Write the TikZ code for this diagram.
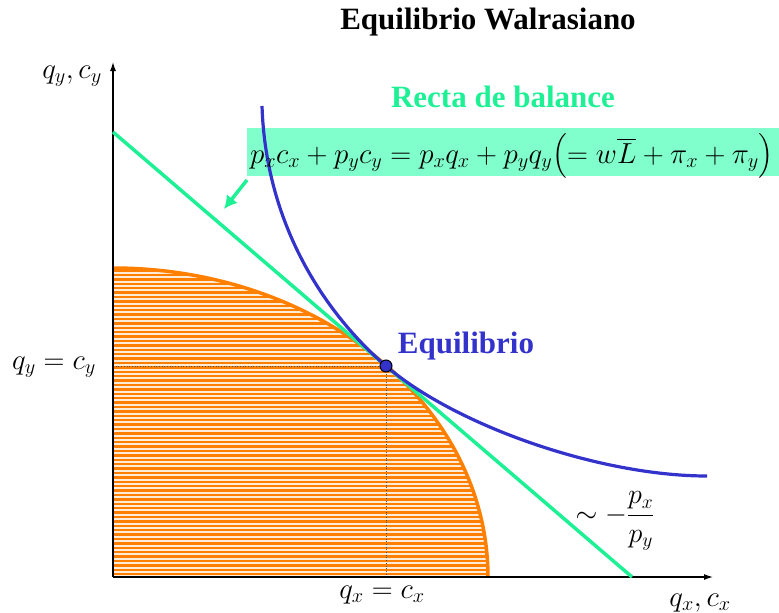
\RequirePackage{fix-cm}
\documentclass[tikz,border=0pt]{standalone}
\usepackage{amsmath}
\usepackage[no-math]{fontspec}
\setmainfont{Liberation Serif}
\usetikzlibrary{arrows.meta}
\definecolor{lgreen}{RGB}{30,240,150}
\definecolor{boxgreen}{RGB}{128,255,204}
\definecolor{ublue}{RGB}{51,51,204}
\definecolor{uorange}{RGB}{255,128,0}
\definecolor{paleorange}{RGB}{255,236,215}
\tikzset{
  axis/.style={line width=1.2pt,-{Latex[length=9pt,width=6pt]}},
  guide/.style={dotted,line width=0.7pt,black!70},
  lbl/.style={inner sep=0pt,font=\fontsize{29}{32}\selectfont},
  headline/.style={inner sep=0pt,font=\fontsize{31}{35}\selectfont\bfseries},
}
\begin{document}
\begin{tikzpicture}[x=1pt,y=-1pt]
\useasboundingbox (0,0) rectangle (779,613);
% production possibility region
\begin{scope}
  \clip (113,577) -- plot[domain=90:0,samples=80] ({113+375*cos(\x)},{577-309*sin(\x)}) -- cycle;
  \fill[paleorange] (110,260) rectangle (500,580);
  \foreach \yy in {270.5,274.9,...,580} \draw[uorange,line width=2.4pt] (110,\yy) -- (500,\yy);
\end{scope}
\draw[uorange,line width=3.5pt] plot[domain=90:0,samples=80] ({113+375*cos(\x)},{577-309*sin(\x)});
% formula box
\fill[boxgreen] (247,128) rectangle (779,176);
% coordinates
\coordinate (O) at (113,577);
\coordinate (ytop) at (113,62);
\coordinate (xend) at (713,577);
\coordinate (E) at (386,366);
\coordinate (Ey) at (113,366);
\coordinate (Ex) at (386,577);
\coordinate (bl1) at (113,132);
\coordinate (bl2) at (632,577);
\coordinate (ic1) at (262,106);
\coordinate (ic2) at (707,476);
\coordinate (ar1) at (247,180);
\coordinate (ar2) at (224,209);
% guides
\draw[guide] (Ey) -- (E) -- (Ex);
% axes
\draw[axis] (O) -- (ytop);
\draw[axis] (O) -- (xend);
% budget line
\draw[lgreen,line width=3.5pt] (bl1) -- (bl2);
% indifference curve
\draw[ublue,line width=3.2pt] (ic1) .. controls (266,230) and (330,318) .. (E)
  .. controls (456,426) and (600,476) .. (ic2);
% arrow
\draw[lgreen,line width=3.5pt,-{Latex[length=13pt,width=14pt]}] (ar1) -- (ar2);
% equilibrium dot
\node[circle,draw=black,line width=1pt,fill=ublue,minimum size=12pt,inner sep=0pt] (dot) at (E) {};
% texts
\node[headline] (title) at (488,22) {Equilibrio Walrasiano};
\node[headline,text=lgreen] (recta) at (503,97) {Recta de balance};
\node[headline,text=ublue] (eqlbl) at (466,346) {Equilibrio};
\node[lbl,anchor=base west] (formula) at (250,163) {$p_x c_x + p_y c_y = p_x q_x + p_y q_y\bigl(= w\overline{L} + \pi_x + \pi_y\bigr)$};
\node[lbl,anchor=base] (qyc) at (72,78) {$q_y,c_y$};
\node[lbl,anchor=base] (qyeq) at (54,369) {$q_y = c_y$};
\node[lbl,anchor=base] (qxeq) at (382,598) {$q_x = c_x$};
\node[lbl,anchor=base] (qxc) at (700,606) {$q_x,c_x$};
\node[lbl,font=\fontsize{28}{32}\selectfont] (slope) at (615,521) {$\sim -\dfrac{p_x}{p_y}$};
\end{tikzpicture}
\end{document}
